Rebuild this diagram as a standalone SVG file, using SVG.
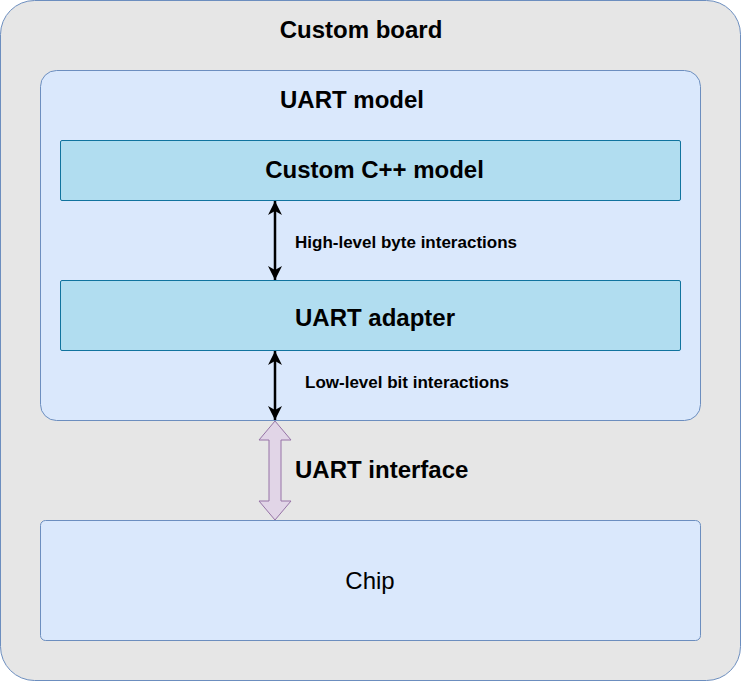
<svg xmlns="http://www.w3.org/2000/svg" width="741" height="682" viewBox="0 0 741 682">
<style>
text{font-family:"Liberation Sans",Arial,sans-serif;fill:#000}
.h{font-weight:bold;font-size:24px}
.s{font-weight:bold;font-size:17px}
.c{text-anchor:middle}
.blue{fill:#dae8fc;stroke:#6c8ebf;stroke-width:1}
.cyan{fill:#b1ddf0;stroke:#10739e;stroke-width:1}
.conn{stroke:#000;stroke-width:2.5;fill:none}
</style>
<defs>
<marker id="ah" viewBox="0 0 14 14" refX="14" refY="7" markerWidth="14" markerHeight="14" markerUnits="userSpaceOnUse" orient="auto-start-reverse">
<path d="M0,0 L14,7 L0,14 L4,7 Z" fill="#000"/>
</marker>
</defs>
<g id="custom-board">
<rect x="0.5" y="0.5" width="740" height="680" rx="34" fill="#e6e6e6" stroke="#6c8ebf"/>
<text class="h c" x="361" y="37.5">Custom board</text>
</g>
<g id="uart-model">
<rect class="blue" x="40.5" y="70.5" width="660" height="350" rx="16"/>
<text class="h c" x="352" y="107.5">UART model</text>
</g>
<g id="cpp-model">
<rect class="cyan" x="60.5" y="140.5" width="620" height="60" rx="1.5"/>
<text class="h c" x="374.5" y="177.5">Custom C++ model</text>
</g>
<g id="uart-adapter">
<rect class="cyan" x="60.5" y="280.5" width="620" height="70" rx="1.5"/>
<text class="h c" x="375" y="325.5">UART adapter</text>
</g>
<g id="chip">
<rect class="blue" x="40.5" y="520.5" width="660" height="120" rx="5"/>
<text class="c" x="370" y="588.5" style="font-size:24px">Chip</text>
</g>
<g id="connectors">
<line class="conn" x1="275" y1="201" x2="275" y2="280" marker-start="url(#ah)" marker-end="url(#ah)"/>
<text class="s" x="295" y="248">High-level byte interactions</text>
<line class="conn" x1="275" y1="351" x2="275" y2="420" marker-start="url(#ah)" marker-end="url(#ah)"/>
<text class="s" x="305" y="388">Low-level bit interactions</text>
<path d="M275,421 L291,440 L281,440 L281,501 L291,501 L275,520 L259,501 L269,501 L269,440 L259,440 Z" fill="#e1d5e7" stroke="#9673a6" stroke-width="1"/>
<text class="h" x="295" y="477.5">UART interface</text>
</g>
</svg>
